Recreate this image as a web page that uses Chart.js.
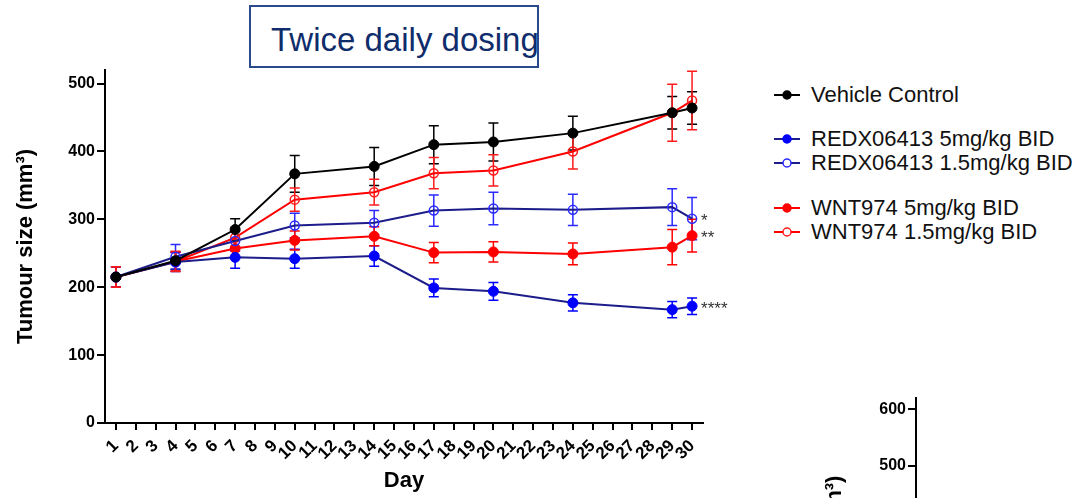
<!DOCTYPE html>
<html>
<head>
<meta charset="utf-8">
<script src="https://cdn.jsdelivr.net/npm/chart.js@4.4.1/dist/chart.umd.min.js"></script>
<style>
    body { margin: 0; width: 1080px; height: 498px; overflow: hidden; background: #fff; position: relative;
           font-family: "Liberation Sans", Arial, sans-serif; }
    #mainChart { position: absolute; left: 0; top: 0; }
    #sideChart { position: absolute; left: 780px; top: 380px; }
    #titleBox { position: absolute; left: 249px; top: 5px; width: 286px; height: 59px; border: 2px solid #2a4a8c;
                overflow: hidden; white-space: nowrap; }
    #titleBox span { position: absolute; left: 20px; top: 14px; font-size: 33px; line-height: 38px; color: #0f2c6b; }
    .legItem { position: absolute; left: 773px; height: 24px; display: flex; align-items: center;
               font-size: 22px; color: #111; white-space: nowrap; }
    .legItem svg { margin-right: 10px; }
</style>
</head>
<body>
<div id="titleBox"><span>Twice daily dosing</span></div>
<canvas id="mainChart" width="760" height="498"></canvas>
<canvas id="sideChart" width="300" height="380"></canvas>
<div id="legend"></div>

<script>
// Days measured
const days = [1, 4, 7, 10, 14, 17, 20, 24, 29, 30];
const dayTicks = Array.from({ length: 30 }, (_, i) => i + 1);
const sizeTicks = [0, 100, 200, 300, 400, 500];

// Mean tumour size per group
const vehicle = [215, 239, 285, 367, 378, 410, 414, 427, 457, 464];
const redx5 = [215, 237, 244, 242, 246, 199, 194, 177, 167, 172];
const redx15 = [215, 245, 268, 291, 295, 313, 316, 314, 318, 301];
const wnt5 = [215, 238, 257, 269, 275, 251, 252, 249, 259, 276];
const wnt15 = [215, 238, 273, 329, 340, 368, 372, 400, 457, 475];

// Error (SEM) per group
const vehicleErr = [15, 13, 16, 27, 28, 28, 28, 25, 24, 24];
const redx5Err = [15, 14, 16, 14, 15, 13, 13, 12, 12, 12];
const redx15Err = [15, 18, 15, 18, 18, 23, 24, 23, 27, 31];
const wnt5Err = [15, 14, 14, 14, 14, 15, 15, 16, 26, 24];
const wnt15Err = [15, 15, 15, 17, 19, 23, 23, 26, 42, 43];

const names = ["Vehicle Control", "REDX06413 5mg/kg BID", "REDX06413 1.5mg/kg BID", "WNT974 5mg/kg BID", "WNT974 1.5mg/kg BID"];
const stars = ["", "****", "*", "**", ""];

const font = "'Liberation Sans', Arial, sans-serif";

// series look: line colour, marker colour, filled?
const looks = [
    { line: "#000000", mark: "#000000", filled: true },
    { line: "#1c1c8a", mark: "#0000ff", filled: true },
    { line: "#1c1c8a", mark: "#2a2aff", filled: false },
    { line: "#ff0000", mark: "#ff0000", filled: true },
    { line: "#ff0000", mark: "#ff1a1a", filled: false }
];
const values = [vehicle, redx5, redx15, wnt5, wnt15];
const errors = [vehicleErr, redx5Err, redx15Err, wnt5Err, wnt15Err];

function makeDataset(i) {
    let look = looks[i];
    return {
        label: names[i],
        data: days.map((d, k) => ({ x: d, y: values[i][k] })),
        errors: errors[i],
        star: stars[i],
        borderColor: look.line,
        borderWidth: 2,
        pointRadius: look.filled ? 5 : 4.5,
        pointBorderWidth: look.filled ? 1 : 1.5,
        pointBorderColor: look.mark,
        pointBackgroundColor: look.filled ? look.mark : "rgba(255,255,255,0)",
        errColor: look.mark,
        tension: 0
    };
}

// Error bars + significance stars
const errorBars = {
    id: "errorBars",
    beforeDatasetsDraw(chart) {
        let ctx = chart.ctx;
        let xs = chart.scales.x, ys = chart.scales.y;
        ctx.save();
        chart.data.datasets.forEach(ds => {
            ctx.strokeStyle = ds.errColor;
            ctx.lineWidth = 1.5;
            ds.data.forEach((p, k) => {
                let px = xs.getPixelForValue(p.x);
                let top = ys.getPixelForValue(p.y + ds.errors[k]);
                let bot = ys.getPixelForValue(p.y - ds.errors[k]);
                ctx.beginPath();
                ctx.moveTo(px, top); ctx.lineTo(px, bot);
                ctx.moveTo(px - 5, top); ctx.lineTo(px + 5, top);
                ctx.moveTo(px - 5, bot); ctx.lineTo(px + 5, bot);
                ctx.stroke();
            });
        });
        ctx.restore();
    },
    afterDatasetsDraw(chart) {
        let ctx = chart.ctx;
        ctx.save();
        ctx.fillStyle = "#333";
        ctx.font = "17px " + font;
        ctx.textAlign = "left";
        ctx.textBaseline = "middle";
        chart.data.datasets.forEach(ds => {
            if (!ds.star) return;
            let last = ds.data[ds.data.length - 1];
            let px = chart.scales.x.getPixelForValue(last.x) + 9;
            let py = chart.scales.y.getPixelForValue(last.y) + 3;
            ctx.fillText(ds.star, px, py);
        });
        ctx.restore();
    }
};

new Chart(document.getElementById("mainChart"), {
    type: "line",
    data: { datasets: values.map((v, i) => makeDataset(i)) },
    options: {
        responsive: false,
        animation: false,
        layout: { padding: { left: 9, top: 70, right: 57, bottom: 0 } },
        plugins: { legend: { display: false }, tooltip: { enabled: false } },
        scales: {
            x: {
                type: "linear",
                min: 0.45,
                max: 30.55,
                afterBuildTicks: s => { s.ticks = dayTicks.map(v => ({ value: v })); },
                afterFit: s => { s.height = 75; },
                grid: { drawOnChartArea: false, drawTicks: true, tickLength: 7, color: "#000", lineWidth: 2 },
                border: { color: "#000", width: 2 },
                ticks: { color: "#000", font: { family: font, size: 17, weight: "bold" }, minRotation: 45, maxRotation: 45, padding: 6, autoSkip: false },
                title: { display: true, text: "Day", color: "#000", font: { family: font, size: 22, weight: "bold" } }
            },
            y: {
                min: 0,
                max: 520,
                afterBuildTicks: s => { s.ticks = sizeTicks.map(v => ({ value: v })); },
                afterFit: s => { s.width = 96; },
                grid: { drawOnChartArea: false, drawTicks: true, tickLength: 8, color: "#000", lineWidth: 2 },
                border: { color: "#000", width: 2 },
                ticks: { color: "#000", font: { family: font, size: 16, weight: "bold" }, padding: 2 },
                title: { display: true, text: "Tumour size (mm³)", color: "#000", font: { family: font, size: 22, weight: "bold" } }
            }
        }
    },
    plugins: [errorBars]
});

// Partly visible second chart in the corner (axis only)
new Chart(document.getElementById("sideChart"), {
    type: "line",
    data: { datasets: [] },
    options: {
        responsive: false,
        animation: false,
        layout: { padding: { left: 38, top: 18, right: 10, bottom: 9 } },
        plugins: { legend: { display: false }, tooltip: { enabled: false } },
        scales: {
            x: { type: "linear", min: 0, max: 10, display: false },
            y: {
                min: 0,
                max: 620,
                afterBuildTicks: s => { s.ticks = [0, 100, 200, 300, 400, 500, 600].map(v => ({ value: v })); },
                afterFit: s => { s.width = 98; },
                grid: { drawOnChartArea: false, drawTicks: true, tickLength: 8, color: "#000", lineWidth: 2 },
                border: { color: "#000", width: 2 },
                ticks: { color: "#000", font: { family: font, size: 16, weight: "bold" }, padding: 2 },
                title: { display: true, text: "Tumour size (mm³)", color: "#000", font: { family: font, size: 22, weight: "bold" } }
            }
        }
    }
});

// Legend with grouped entries
const legendTops = [95, 139, 163, 208, 232];
function DisplayLegend() {
    let legend = document.getElementById("legend");
    names.forEach((name, i) => {
        let look = looks[i];
        let fill = look.filled ? look.mark : "#fff";
        let item = document.createElement("div");
        item.className = "legItem";
        item.style.top = (legendTops[i] - 12) + "px";
        item.innerHTML =
            `<svg width="28" height="12"><line x1="1" y1="6" x2="27" y2="6" stroke="${look.line}" stroke-width="2"/>` +
            `<circle cx="14" cy="6" r="4" fill="${fill}" stroke="${look.mark}" stroke-width="1.5"/></svg>` +
            `<span>${name}</span>`;
        legend.appendChild(item);
    });
}
DisplayLegend();
</script>
</body>
</html>
